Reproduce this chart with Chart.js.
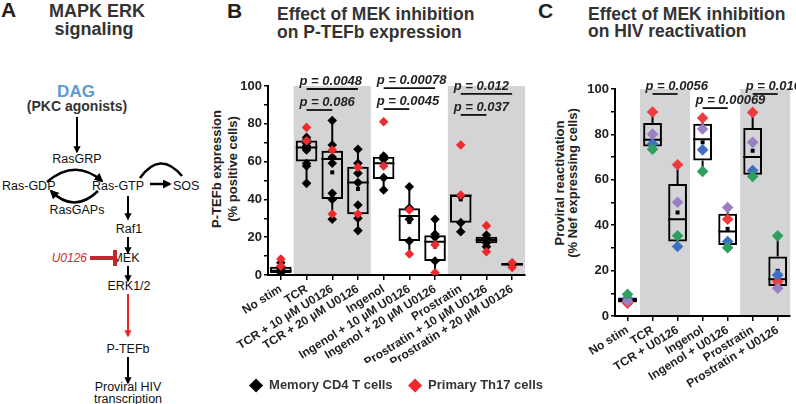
<!DOCTYPE html>
<html>
<head>
<meta charset="utf-8">
<script src="https://cdn.jsdelivr.net/npm/chart.js@4.4.0/dist/chart.umd.min.js"></script>
<style>
  html, body { margin: 0; padding: 0; background: #fff; }
  #wrap { position: relative; width: 796px; height: 404px; overflow: hidden; }
  #wrap svg, #wrap canvas { position: absolute; top: 0; }
  svg text { font-family: "Liberation Sans", Arial, sans-serif; }
</style>
</head>
<body>
<div id="wrap">
<svg width="796" height="404" style="left:0">
  <defs>
    <marker id="ah" viewBox="0 0 10 10" refX="8" refY="5" markerWidth="3.6" markerHeight="3.6" orient="auto">
      <path d="M0,0 L10,5 L0,10 z" fill="#000"/>
    </marker>
    <marker id="ahr" viewBox="0 0 10 10" refX="8" refY="5" markerWidth="3.6" markerHeight="3.6" orient="auto">
      <path d="M0,0 L10,5 L0,10 z" fill="#e8262b"/>
    </marker>
  </defs>
  <!-- panel A: pathway sketch -->
  <text x="1" y="17" font-size="21" font-weight="bold" fill="#222">A</text>
  <text x="97" y="17" text-anchor="middle" font-size="18" font-weight="bold" fill="#333">MAPK ERK</text>
  <text x="94" y="35" text-anchor="middle" font-size="18" font-weight="bold" fill="#333">signaling</text>
  <text x="76" y="97" text-anchor="middle" font-size="17" font-weight="bold" fill="#5b9bd5">DAG</text>
  <text x="77" y="111" text-anchor="middle" font-size="14" font-weight="bold" fill="#333">(PKC agonists)</text>
  <line x1="77" y1="117" x2="77" y2="152" stroke="#000" stroke-width="2" marker-end="url(#ah)"/>
  <text x="77" y="163" text-anchor="middle" font-size="12.5" fill="#111">RasGRP</text>
  <path d="M47,182 Q75,158 102,181" fill="none" stroke="#000" stroke-width="2.5" marker-end="url(#ah)"/>
  <text x="2" y="190" font-size="12.5" fill="#111">Ras-GDP</text>
  <text x="92" y="190" font-size="12.5" fill="#111">Ras-GTP</text>
  <text x="173" y="190" font-size="12.5" fill="#111">SOS</text>
  <line x1="150" y1="184" x2="170" y2="184" stroke="#000" stroke-width="2.5" marker-end="url(#ah)"/>
  <path d="M140,178 Q160,150 182,176" fill="none" stroke="#000" stroke-width="2.5"/>
  <path d="M98,191 Q74,214 51,191" fill="none" stroke="#000" stroke-width="2.5" marker-end="url(#ah)"/>
  <text x="77" y="214" text-anchor="middle" font-size="12.5" fill="#111">RasGAPs</text>
  <line x1="128" y1="196" x2="128" y2="219" stroke="#000" stroke-width="2" marker-end="url(#ah)"/>
  <text x="129" y="233" text-anchor="middle" font-size="12.5" fill="#111">Raf1</text>
  <line x1="128" y1="237" x2="128" y2="253" stroke="#000" stroke-width="2" marker-end="url(#ah)"/>
  <text x="126" y="262" text-anchor="middle" font-size="12.5" fill="#111">MEK</text>
  <line x1="90" y1="258" x2="114" y2="258" stroke="#c1272d" stroke-width="4"/>
  <line x1="115" y1="250" x2="115" y2="266" stroke="#c1272d" stroke-width="4"/>
  <text x="87" y="262" text-anchor="end" font-size="12" font-style="italic" fill="#d42a2f">U0126</text>
  <line x1="128" y1="266" x2="128" y2="281" stroke="#000" stroke-width="2" marker-end="url(#ah)"/>
  <text x="129" y="290" text-anchor="middle" font-size="12.5" fill="#111">ERK1/2</text>
  <line x1="128" y1="294" x2="128" y2="336" stroke="#e8262b" stroke-width="2" marker-end="url(#ahr)"/>
  <text x="128" y="353" text-anchor="middle" font-size="12.5" fill="#111">P-TEFb</text>
  <line x1="128" y1="357" x2="128" y2="383" stroke="#000" stroke-width="2" marker-end="url(#ah)"/>
  <text x="128" y="391" text-anchor="middle" font-size="12.5" fill="#111">Proviral HIV</text>
  <text x="128" y="403" text-anchor="middle" font-size="12.5" fill="#111">transcription</text>

  <!-- panel titles -->
  <text x="227" y="18" font-size="21" font-weight="bold" fill="#222">B</text>
  <text x="277" y="20" font-size="17.5" font-weight="bold" fill="#333">Effect of MEK inhibition</text>
  <text x="277" y="38" font-size="17.5" font-weight="bold" fill="#333">on P-TEFb expression</text>
  <text x="538" y="18" font-size="21" font-weight="bold" fill="#222">C</text>
  <text x="588" y="20" font-size="17.5" font-weight="bold" fill="#333">Effect of MEK inhibition</text>
  <text x="588" y="37" font-size="17.5" font-weight="bold" fill="#333">on HIV reactivation</text>

  <!-- axis titles -->
  <text transform="translate(221,169) rotate(-90)" text-anchor="middle" font-size="13" font-weight="bold" fill="#222">P-TEFb expression</text>
  <text transform="translate(237,169) rotate(-90)" text-anchor="middle" font-size="13" font-weight="bold" fill="#222">(% positive cells)</text>
  <text transform="translate(564,183) rotate(-90)" text-anchor="middle" font-size="13" font-weight="bold" fill="#222">Proviral reactivation</text>
  <text transform="translate(577,183) rotate(-90)" text-anchor="middle" font-size="13" font-weight="bold" fill="#222">(% Nef expressing cells)</text>
</svg>
<canvas id="chartB" width="354" height="404" style="left:205px"></canvas>
<canvas id="chartC" width="266" height="404" style="left:530px"></canvas>
</div>

<script>
// ---- panel B data: P-TEFb expression (% positive cells) ----
const tefbLabels = [
  'No stim', 'TCR', 'TCR + 10 µM U0126', 'TCR + 20 µM U0126', 'Ingenol',
  'Ingenol + 10 µM U0126', 'Ingenol + 20 µM U0126', 'Prostratin',
  'Prostratin + 10 µM U0126', 'Prostratin + 20 µM U0126'
];
const tefbMemory = [
  [6.5, 4.4, 2.6, 1.2, 0],
  [72.8, 71.4, 69.7, 68.3, 67, 66.1, 59, 57.7, 48.5],
  [81.7, 68.8, 62.3, 59.1, 43.2, 40, 29.5],
  [66.5, 59.1, 53.8, 48.9, 37, 30, 23.5],
  [63, 61.2, 51.5, 45],
  [46.7, 35.5, 29.5, 18],
  [29.5, 21.5, 20, 7.4],
  [41.8, 27.7, 22.9],
  [21.2, 19.5, 18.5, 17, 15],
  [6.2, 5.5]
];
const tefbTh17 = [
  [8.5, 4.7], [78.1, 71], [66.1, 32.3], [57, 32.3], [81.1, 57.7],
  [34.4, 11.1], [16, 1.2], [68.8, 42.3], [26.1, 12.3], [6.5, 4]
];
const tefbQ1     = [1, 60, 40.2, 32.1, 50.8, 18, 7.4, 27.7, 16.8, 5];
const tefbMedian = [2.3, 67.4, 61.4, 48.9, 59.1, 31.2, 17.6, 42, 18.5, 5.6];
const tefbQ3     = [4.4, 71.1, 65.8, 57.3, 62.6, 35.3, 21, 42.3, 20.3, 6.3];
const tefbLow    = [0, 48.5, 29.5, 23.5, 45, 11.1, 1.2, 22.9, 15, 4.5];
const tefbHigh   = [8.5, 73, 81.7, 66.5, 63, 46.7, 29.5, 42.3, 21.5, 6.5];
const tefbMean   = [3.6, 66, 54.3, 45.5, 58, 28, 15, 40, 19, 5.5];
const tefbPvalues = [
  [1, 3, 98.4, 'p = 0.0048'], [1, 2, 87.3, 'p = 0.086'],
  [4, 6, 98.9, 'p = 0.00078'], [4, 5, 87.8, 'p = 0.0045'],
  [7, 9, 95.8, 'p = 0.012'], [7, 8, 84.7, 'p = 0.037']
];

// ---- panel C data: proviral reactivation (% Nef expressing cells), one value per donor ----
const hivLabels = ['No stim', 'TCR', 'TCR + U0126', 'Ingenol', 'Ingenol + U0126', 'Prostratin', 'Prostratin + U0126'];
const hivRed    = [5.6, 89.9, 66.6, 87.2, 42.6, 89.7, 15.1];
const hivPurple = [6.6, 80.1, 50.1, 82.4, 47.8, 76.5, 12.2];
const hivBlue   = [7.8, 75.9, 30.6, 73.2, 32.8, 64.1, 18.1];
const hivGreen  = [9.6, 73.5, 35.3, 63.7, 30.1, 61.5, 35.3];
const hivQ1     = [5.9, 74.7, 32.8, 68.5, 31.3, 62.2, 13.2];
const hivMedian = [7.1, 77.6, 42.6, 77.9, 37.2, 70, 16.2];
const hivQ3     = [8.2, 85, 58.2, 84.7, 45, 82.8, 26.2];
const hivLow    = [5.6, 73.5, 30.6, 63.7, 30.1, 61.5, 12.2];
const hivHigh   = [9.6, 89.9, 66.6, 87.2, 47.8, 89.7, 35.3];
const hivMean   = [7.4, 79.9, 45.6, 76.5, 38.4, 72.8, 19.9];
const hivPvalues = [
  [1, 2, 97.8, 'p = 0.0056'], [3, 4, 91.6, 'p = 0.00069'], [5, 6, 97.8, 'p = 0.016']
];

Chart.defaults.font.family = '"Liberation Sans", Arial, sans-serif';
Chart.defaults.color = '#222';

// shaded groups behind the boxes (first, last category index)
function grayBands(tag, groups) {
  return {
    id: 'grayBands' + tag,
    beforeDraw(chart) {
      const { ctx, scales: { x, y } } = chart;
      const half = (x.getPixelForValue(1) - x.getPixelForValue(0)) / 2;
      ctx.save();
      ctx.fillStyle = '#d4d4d6';
      groups.forEach(([a, b]) => {
        const left = x.getPixelForValue(a) - half;
        const right = x.getPixelForValue(b) + half;
        const top = y.getPixelForValue(100);
        ctx.fillRect(left, top, right - left, y.getPixelForValue(0) - top);
      });
      ctx.restore();
    }
  };
}

// keep the y axis glued to the plot area
function pinAxes(tag, yWidth) {
  return {
    id: 'pinAxes' + tag,
    afterLayout(chart) {
      const { x, y } = chart.scales;
      const area = chart.chartArea;
      y.right = area.left;
      y.left = area.left - yWidth;
      y.width = yWidth;
      x.top = area.bottom;
      x.bottom = area.bottom + x.height;
    }
  };
}

// whiskers, median line and mean square for each box
function boxExtras(tag, s) {
  return {
    id: 'boxExtras' + tag,
    beforeDatasetsDraw(chart) {
      const { ctx, scales: { x, y } } = chart;
      const half = (x.getPixelForValue(1) - x.getPixelForValue(0)) * s.width / 2;
      ctx.save();
      ctx.strokeStyle = '#000';
      ctx.fillStyle = '#000';
      ctx.lineWidth = 2;
      s.median.forEach((m, i) => {
        const cx = x.getPixelForValue(i);
        ctx.beginPath();
        ctx.moveTo(cx, y.getPixelForValue(s.low[i]));
        ctx.lineTo(cx, y.getPixelForValue(s.q1[i]));
        ctx.moveTo(cx, y.getPixelForValue(s.q3[i]));
        ctx.lineTo(cx, y.getPixelForValue(s.high[i]));
        ctx.moveTo(cx - half, y.getPixelForValue(m));
        ctx.lineTo(cx + half, y.getPixelForValue(m));
        ctx.stroke();
        const my = y.getPixelForValue(s.mean[i]);
        ctx.fillRect(cx - 2, my - 2, 4, 4);
      });
      ctx.restore();
    }
  };
}

// significance bars with their p values
function pBars(tag, list) {
  return {
    id: 'pBars' + tag,
    afterDraw(chart) {
      const { ctx, scales: { x, y } } = chart;
      ctx.save();
      ctx.strokeStyle = '#111';
      ctx.fillStyle = '#222';
      ctx.lineWidth = 1.8;
      ctx.font = 'italic bold 13px "Liberation Sans", Arial, sans-serif';
      ctx.textBaseline = 'alphabetic';
      list.forEach(([a, b, level, label]) => {
        const x1 = x.getPixelForValue(a);
        const x2 = x.getPixelForValue(b);
        const yy = y.getPixelForValue(level);
        ctx.beginPath();
        ctx.moveTo(x1, yy);
        ctx.lineTo(x2, yy);
        ctx.stroke();
        ctx.fillText(label, x1 - 7, yy - 4);
      });
      ctx.restore();
    }
  };
}

const toPoints = (labels, rows) => rows.flatMap((vals, i) => vals.map(v => ({ x: labels[i], y: v })));
const donorPoints = (labels, vals) => vals.map((v, i) => ({ x: labels[i], y: v }));

function pointSet(label, data, color, radius, order) {
  return {
    type: 'line', label, data, showLine: false, order,
    pointStyle: 'rectRot', pointRadius: radius, pointBorderWidth: 0,
    pointBackgroundColor: color, backgroundColor: color, borderColor: color
  };
}

function axes(labels, rotation, xHeight, yWidth) {
  return {
    x: {
      type: 'category', labels, offset: true,
      grid: { display: true, drawOnChartArea: false, offset: false, color: '#000', lineWidth: 1.5, tickLength: 5 },
      border: { color: '#000', width: 2 },
      ticks: { autoSkip: false, minRotation: rotation, maxRotation: rotation, padding: 2,
               color: '#222', font: { size: 12, weight: 'bold' } },
      afterFit: s => { s.height = xHeight; }
    },
    y: {
      min: 0, max: 100,
      grid: { drawOnChartArea: false, color: '#000', lineWidth: 1.5, tickLength: 4 },
      border: { color: '#000', width: 2 },
      ticks: { stepSize: 10, padding: 2, color: '#222', font: { size: 13, weight: 'bold' },
               callback: v => (v % 20 === 0 ? v : '') },
      afterFit: s => { s.width = yWidth; }
    }
  };
}

// ---- chart B ----
const scalesB = axes(tefbLabels, 32, 88, 63);
scalesB.yr = {
  position: 'right', grid: { display: false }, border: { display: false },
  ticks: { display: false }, afterFit: s => { s.width = 34; }
};
const chartB = new Chart(document.getElementById('chartB'), {
  data: {
    labels: tefbLabels,
    datasets: [
      {
        type: 'bar', data: tefbQ1.map((q, i) => [q, tefbQ3[i]]), order: 3,
        backgroundColor: 'rgba(0,0,0,0)', borderColor: '#000', borderWidth: 2, borderSkipped: false,
        grouped: false, barPercentage: 0.84, categoryPercentage: 1
      },
      pointSet('Memory CD4 T cells', toPoints(tefbLabels, tefbMemory), '#000', 4.8, 2),
      pointSet('Primary Th17 cells', toPoints(tefbLabels, tefbTh17), '#ee2a2e', 4.8, 1)
    ]
  },
  options: {
    responsive: false, animation: false, events: [],
    layout: { padding: { top: 86, bottom: 2, left: 0, right: 0 } },
    scales: scalesB,
    plugins: {
      tooltip: { enabled: false },
      legend: {
        position: 'bottom', align: 'end',
        labels: {
          usePointStyle: true, boxHeight: 10, padding: 16, color: '#333',
          font: { size: 13, weight: 'bold' },
          filter: item => !!item.text,
          sort: (a, b) => a.datasetIndex - b.datasetIndex
        }
      }
    }
  },
  plugins: [
    pinAxes('B', 63),
    grayBands('B', [[1, 3], [7, 9]]),
    boxExtras('B', { q1: tefbQ1, q3: tefbQ3, median: tefbMedian, low: tefbLow, high: tefbHigh, mean: tefbMean, width: 0.84 }),
    pBars('B', tefbPvalues)
  ]
});

// ---- chart C ----
new Chart(document.getElementById('chartC'), {
  data: {
    labels: hivLabels,
    datasets: [
      {
        type: 'bar', data: hivQ1.map((q, i) => [q, hivQ3[i]]), order: 5,
        backgroundColor: 'rgba(0,0,0,0)', borderColor: '#000', borderWidth: 2, borderSkipped: false,
        grouped: false, barPercentage: 0.75, categoryPercentage: 1
      },
      pointSet('Donor 1', donorPoints(hivLabels, hivRed), '#ef3a3e', 5.8, 4),
      pointSet('Donor 2', donorPoints(hivLabels, hivBlue), '#3d6fc3', 5.8, 3),
      pointSet('Donor 3', donorPoints(hivLabels, hivPurple), '#9a80c2', 5.8, 2),
      pointSet('Donor 4', donorPoints(hivLabels, hivGreen), '#2e9f5e', 5.8, 1)
    ]
  },
  options: {
    responsive: false, animation: false, events: [],
    layout: { padding: { top: 89, bottom: 0, left: 0, right: 3 } },
    scales: axes(hivLabels, 32, 88, 85),
    plugins: { tooltip: { enabled: false }, legend: { display: false } }
  },
  plugins: [
    pinAxes('C', 85),
    grayBands('C', [[1, 2], [5, 6]]),
    boxExtras('C', { q1: hivQ1, q3: hivQ3, median: hivMedian, low: hivLow, high: hivHigh, mean: hivMean, width: 0.75 }),
    pBars('C', hivPvalues)
  ]
});

chartB.update('none');
</script>
</body>
</html>
